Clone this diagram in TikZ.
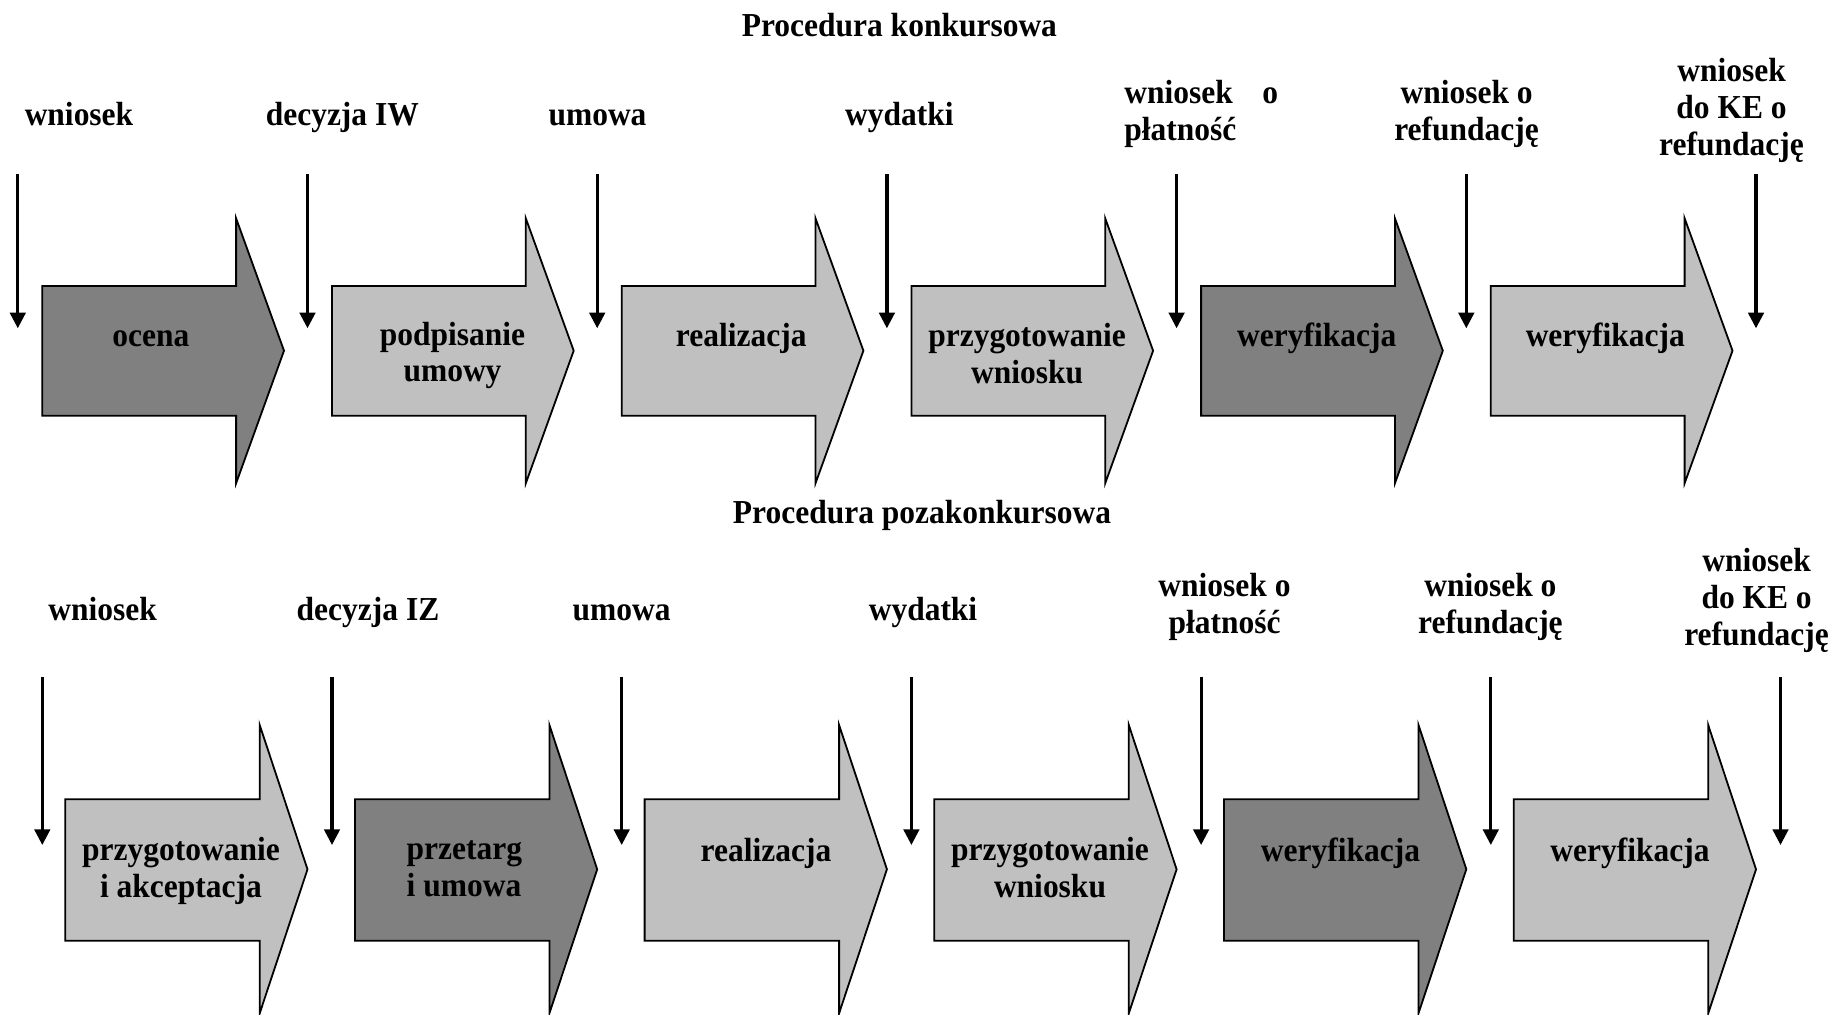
\documentclass[tikz,border=0pt]{standalone}
\usepackage{fontspec}
\setmainfont{Liberation Serif}[FakeStretch=0.94]
\usetikzlibrary{arrows.meta}
\definecolor{darkgr}{HTML}{808080}
\definecolor{lightgr}{HTML}{C0C0C0}
\tikzset{
  lbl/.style={font=\fontsize{16.75}{18.35}\selectfont\bfseries, inner sep=0pt, align=center, anchor=base},
  inarrow/.style={line width=1.6pt, -{Triangle[length=7.8pt,width=7.7pt]}},
  blk/.style={draw=black, line width=0.9pt, line join=miter}
}
\begin{document}
\begin{tikzpicture}[x=0.5pt,y=-0.5pt]
\useasboundingbox (0,0) rectangle (1834,1014);
% ---------- row 1 block arrows ----------
\foreach \k/\col in {0/darkgr,1/lightgr,2/lightgr,3/lightgr,4/darkgr,5/lightgr}{
  \pgfmathsetmacro\L{42.3+289.7*\k}
  \draw[blk, fill=\col] (\L,286) -- (\L+193.8,286) -- (\L+193.8,218.3) -- (\L+241.7,350.7)
     -- (\L+193.8,483.3) -- (\L+193.8,415.7) -- (\L,415.7) -- cycle;
}
% ---------- row 2 block arrows ----------
\foreach \k/\col in {0/lightgr,1/darkgr,2/lightgr,3/lightgr,4/darkgr,5/lightgr}{
  \pgfmathsetmacro\L{65.2+289.7*\k}
  \draw[blk, fill=\col] (\L,799.3) -- (\L+194.5,799.3) -- (\L+194.5,725) -- (\L+242.3,869.3)
     -- (\L+194.5,1013.3) -- (\L+194.5,940.7) -- (\L,940.7) -- cycle;
}
% ---------- vertical arrows ----------
\foreach \k in {0,...,6}{
  \pgfmathsetmacro\X{17.8+289.7*\k}
  \coordinate (ta\k) at (\X,174);
  \coordinate (ba\k) at (\X,328.3);
  \draw[inarrow] (ta\k) -- (ba\k);
  \pgfmathsetmacro\Y{42.3+289.7*\k}
  \coordinate (tb\k) at (\Y,677.3);
  \coordinate (bb\k) at (\Y,845);
  \draw[inarrow] (tb\k) -- (bb\k);
}
% ---------- row 1 texts (multi-line nodes placed at last baseline) ----------
\node[lbl] (title1) at (899.4,36.7) {Procedura konkursowa};
\node[lbl] (l1a) at (79,125) {wniosek};
\node[lbl] (l1b) at (342.3,125) {decyzja IW};
\node[lbl] (l1c) at (597.5,125) {umowa};
\node[lbl] (l1d) at (899.4,125) {wydatki};
\node[lbl, align=left, anchor=base west] (l1e) at (1124,140) {\hbox to 76.8pt{wniosek\hfill o}\\płatność};
\node[lbl] (l1f) at (1466.6,140) {wniosek o\\refundację};
\node[lbl] (l1g) at (1731.5,155.1) {wniosek\\do KE o\\refundację};
\node[lbl] (s1a) at (150.8,346.7) {ocena};
\node[lbl] (s1b) at (452.5,381.7) {podpisanie\\umowy};
\node[lbl] (s1c) at (741.2,346.7) {realizacja};
\node[lbl] (s1d) at (1027.1,383.4) {przygotowanie\\wniosku};
\node[lbl] (s1e) at (1316.7,346.7) {weryfikacja};
\node[lbl] (s1f) at (1605.3,346.7) {weryfikacja};
% ---------- row 2 texts ----------
\node[lbl] (title2) at (922,523.3) {Procedura pozakonkursowa};
\node[lbl] (l2a) at (102.6,620.7) {wniosek};
\node[lbl] (l2b) at (368,620.7) {decyzja IZ};
\node[lbl] (l2c) at (621.7,620.7) {umowa};
\node[lbl] (l2d) at (923,620.7) {wydatki};
\node[lbl] (l2e) at (1224.5,633.4) {wniosek o\\płatność};
\node[lbl] (l2f) at (1490.4,633.4) {wniosek o\\refundację};
\node[lbl] (l2g) at (1756.6,645.1) {wniosek\\do KE o\\refundację};
\node[lbl] (s2a) at (181,897.5) {przygotowanie\\i akceptacja};
\node[lbl, align=left] (s2b) at (464.4,896.5) {przetarg\\i umowa};
\node[lbl] (s2c) at (766,861) {realizacja};
\node[lbl] (s2d) at (1050,897) {przygotowanie\\wniosku};
\node[lbl] (s2e) at (1340.5,861) {weryfikacja};
\node[lbl] (s2f) at (1630,861) {weryfikacja};
\end{tikzpicture}
\end{document}
